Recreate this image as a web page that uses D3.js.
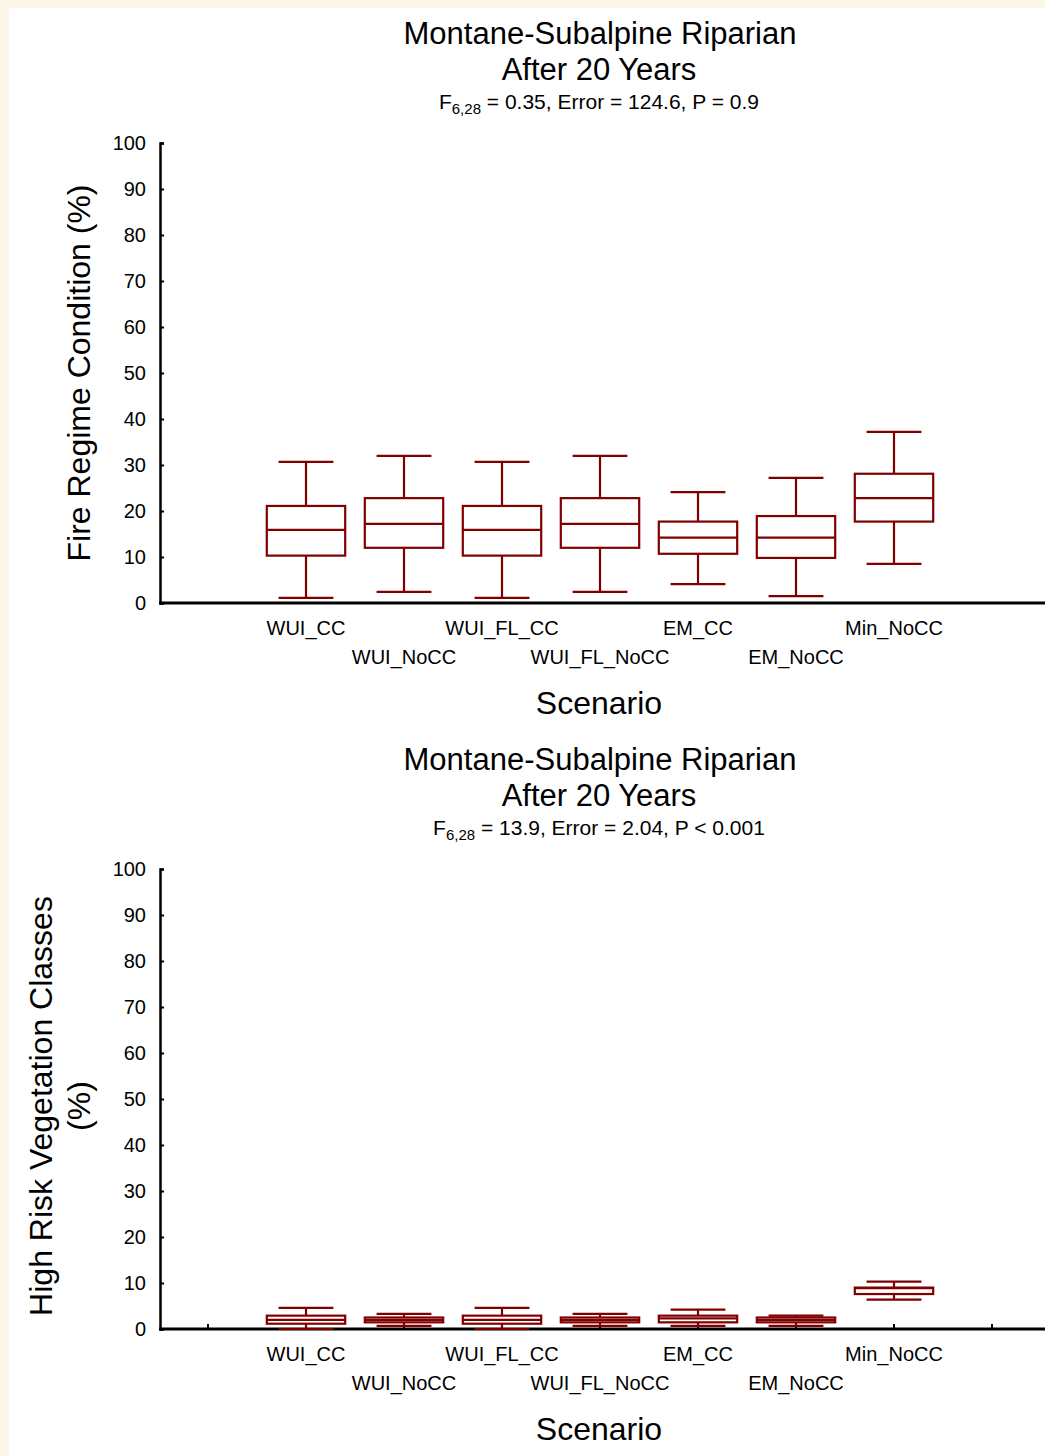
<!DOCTYPE html>
<html>
<head>
<meta charset="utf-8">
<script src="https://cdn.jsdelivr.net/npm/d3@7"></script>
<style>
  html, body { margin: 0; padding: 0; background: #fcf7e8; }
  svg { display: block; }
  text { font-family: "Liberation Sans", Arial, sans-serif; fill: #000; }
</style>
</head>
<body>
<script>
// Scenario names, in plotting order
const categories = ["WUI_CC", "WUI_NoCC", "WUI_FL_CC", "WUI_FL_NoCC", "EM_CC", "EM_NoCC", "Min_NoCC"];
const yTicks = [0, 10, 20, 30, 40, 50, 60, 70, 80, 90, 100];

// Fire Regime Condition (%) – box statistics per scenario
const fireLow    = [1.1, 2.4, 1.1, 2.4, 4.1, 1.5, 8.5];
const fireQ1     = [10.3, 12.0, 10.3, 12.0, 10.7, 9.8, 17.7];
const fireMedian = [15.9, 17.2, 15.9, 17.2, 14.2, 14.2, 22.8];
const fireQ3     = [21.1, 22.8, 21.1, 22.8, 17.7, 18.9, 28.1];
const fireHigh   = [30.7, 32.0, 30.7, 32.0, 24.1, 27.2, 37.2];

// High Risk Vegetation Classes (%) – box statistics per scenario
const riskLow    = [0.0, 0.7, 0.0, 0.7, 0.7, 0.7, 6.4];
const riskQ1     = [1.15, 1.45, 1.15, 1.45, 1.45, 1.45, 7.6];
const riskMedian = [2.0, 2.0, 2.0, 2.0, 2.3, 2.0, 8.9];
const riskQ3     = [2.9, 2.5, 2.9, 2.5, 2.9, 2.5, 9.0];
const riskHigh   = [4.6, 3.3, 4.6, 3.3, 4.2, 2.9, 10.3];

const panels = [
  {
    title: ["Montane-Subalpine Riparian", "After 20 Years"],
    stat: { sub: "6,28", rest: " = 0.35, Error = 124.6, P = 0.9" },
    yLabel: ["Fire Regime Condition (%)"],
    low: fireLow, q1: fireQ1, med: fireMedian, q3: fireQ3, high: fireHigh,
    xTicks: false
  },
  {
    title: ["Montane-Subalpine Riparian", "After 20 Years"],
    stat: { sub: "6,28", rest: " =  13.9, Error =  2.04, P < 0.001" },
    yLabel: ["High Risk Vegetation Classes", "(%)"],
    low: riskLow, q1: riskQ1, med: riskMedian, q3: riskQ3, high: riskHigh,
    xTicks: true
  }
];

const W = 1045, H = 1456;
const svg = d3.select("body").append("svg").attr("width", W).attr("height", H);

// white sheet with a thin cream margin on the top and left
svg.append("rect").attr("x", 9).attr("y", 8).attr("width", W - 9).attr("height", H - 8).attr("fill", "#fff");

const boxColor = "#800000";
const panelOffset = 726;
const x = d3.scaleLinear().domain([-0.5, 8.5]).range([159, 1041]);
const step = x(1) - x(0);

panels.forEach((p, pi) => {
  const oy = pi * panelOffset;
  const g = svg.append("g").attr("transform", `translate(0,${oy})`);
  const y = d3.scaleLinear().domain([0, 100]).range([603, 143]);

  // titles
  g.append("text").attr("x", 600).attr("y", 44).attr("text-anchor", "middle")
    .style("font-size", "31px").text(p.title[0]);
  g.append("text").attr("x", 599).attr("y", 80).attr("text-anchor", "middle")
    .style("font-size", "31px").text(p.title[1]);
  const st = g.append("text").attr("x", 599).attr("y", 109).attr("text-anchor", "middle")
    .style("font-size", "21px");
  st.append("tspan").text("F");
  st.append("tspan").attr("dy", 5).style("font-size", "15px").text(p.stat.sub);
  st.append("tspan").attr("dy", -5).text(p.stat.rest);

  // y axis
  const yAxis = d3.axisLeft(y).tickValues(yTicks).tickSize(-4).tickPadding(14).tickFormat(d3.format("d"));
  const ya = g.append("g").attr("transform", "translate(160,0)").call(yAxis);
  ya.select(".domain").attr("stroke", "#000").attr("stroke-width", 2.5);
  ya.selectAll(".tick line").attr("stroke", "#000").attr("stroke-width", 2);
  ya.selectAll(".tick text").style("font-size", "20px").attr("fill", "#000");

  // x axis (baseline) with staggered scenario labels
  const xa = g.append("g").attr("transform", "translate(0,603)");
  xa.append("line").attr("x1", 159).attr("x2", W).attr("y1", 0).attr("y2", 0)
    .attr("stroke", "#000").attr("stroke-width", 3);
  if (p.xTicks) {
    xa.selectAll("line.xt").data(d3.range(0, 9)).join("line").attr("class", "xt")
      .attr("x1", d => x(d)).attr("x2", d => x(d)).attr("y1", 0).attr("y2", -5)
      .attr("stroke", "#000").attr("stroke-width", 2);
  }
  xa.selectAll("text.cat").data(categories).join("text").attr("class", "cat")
    .attr("x", (d, i) => x(i + 1))
    .attr("y", (d, i) => (i % 2 === 0 ? 32 : 61))
    .attr("text-anchor", "middle").style("font-size", "20px").text(d => d);

  // axis titles
  g.append("text").attr("x", 599).attr("y", 714).attr("text-anchor", "middle")
    .style("font-size", "32px").text("Scenario");
  if (p.yLabel.length === 1) {
    g.append("text").attr("transform", `translate(90,${(143 + 603) / 2}) rotate(-90)`)
      .attr("text-anchor", "middle").style("font-size", "32px").text(p.yLabel[0]);
  } else {
    g.append("text").attr("transform", `translate(52,${(143 + 603) / 2 + 7}) rotate(-90)`)
      .attr("text-anchor", "middle").style("font-size", "32px").text(p.yLabel[0]);
    g.append("text").attr("transform", `translate(90,${(143 + 603) / 2 + 7}) rotate(-90)`)
      .attr("text-anchor", "middle").style("font-size", "32px").text(p.yLabel[1]);
  }

  // box plots
  const boxW = step * 0.8, capW = step * 0.56;
  const bx = g.append("g").attr("fill", "none").attr("stroke", boxColor).attr("stroke-width", 2.2);
  categories.forEach((c, i) => {
    const cx = x(i + 1);
    const b = bx.append("g");
    b.append("line").attr("x1", cx).attr("x2", cx).attr("y1", y(p.high[i])).attr("y2", y(p.q3[i]));
    b.append("line").attr("x1", cx).attr("x2", cx).attr("y1", y(p.q1[i])).attr("y2", y(p.low[i]));
    b.append("line").attr("x1", cx - capW / 2).attr("x2", cx + capW / 2).attr("y1", y(p.high[i])).attr("y2", y(p.high[i]));
    b.append("line").attr("x1", cx - capW / 2).attr("x2", cx + capW / 2).attr("y1", y(p.low[i])).attr("y2", y(p.low[i]));
    b.append("rect").attr("x", cx - boxW / 2).attr("width", boxW)
      .attr("y", y(p.q3[i])).attr("height", y(p.q1[i]) - y(p.q3[i])).attr("fill", "#fff");
    b.append("line").attr("x1", cx - boxW / 2).attr("x2", cx + boxW / 2).attr("y1", y(p.med[i])).attr("y2", y(p.med[i]));
  });
});
</script>
</body>
</html>
